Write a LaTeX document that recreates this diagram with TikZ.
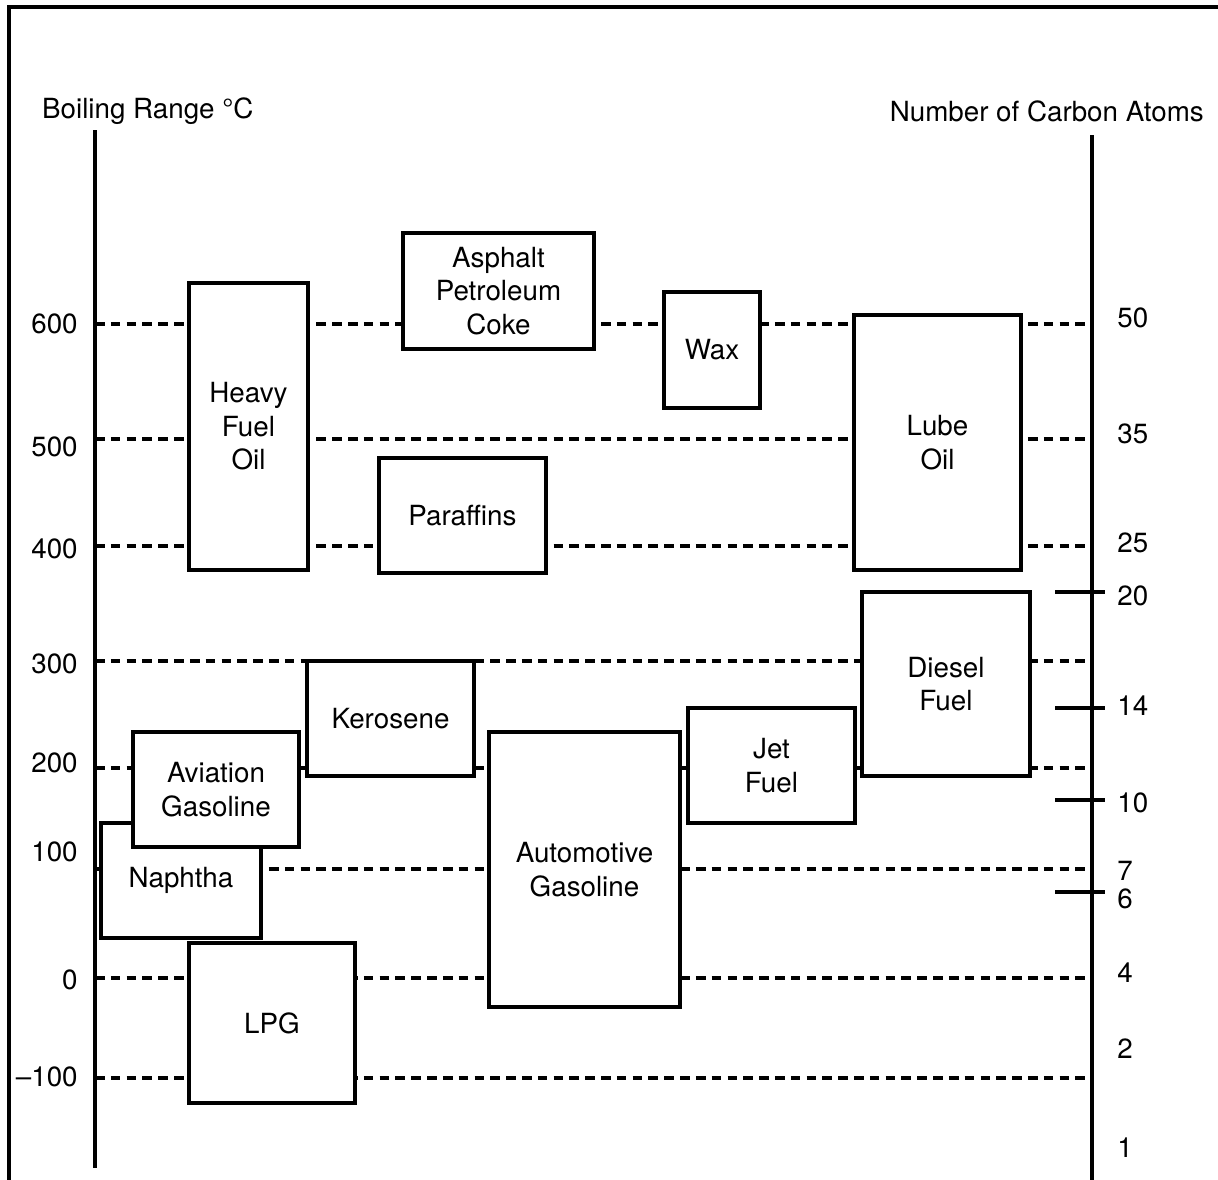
\documentclass[tikz,border=0pt]{standalone}
\usepackage{fontspec}
\setmainfont{TeX Gyre Heros}
\begin{document}
\begin{tikzpicture}[x=0.02cm, y=-0.02cm, font=\fontsize{15.8}{19}\selectfont, line join=miter,
	fuel/.style={draw, fill=white, line width=1.9pt, inner sep=0pt, align=center},
	guide/.style={dash pattern=on 5.5pt off 3.5pt, line width=1.8pt},
	axis/.style={line width=1.9pt},
	tick/.style={inner sep=0pt}]
	\useasboundingbox (0,0) rectangle (1218,1180);
	\draw[line width=2.2pt] (9,1180) -- (9,7) -- (1218,7);
	\coordinate (ltop) at (95,130); \coordinate (lbot) at (95,1168);
	\coordinate (rtop) at (1092,135); \coordinate (rbot) at (1092,1180);
	\node[anchor=west] (btitle) at (36,111) {Boiling Range °C};
	\node[anchor=east] (ctitle) at (1210,111) {Number of Carbon Atoms};
	% grid of boiling points
	\foreach \y in {324,439,546,661,768,869,978,1078}{
		\draw[guide] (95,\y) -- (1092,\y);
	}
	\draw[axis] (ltop) -- (lbot);
	\draw[axis] (rtop) -- (rbot);
	\foreach \y in {592,708,800,892}{
		\draw[axis] (1055,\y) -- (1105,\y);
	}
	\foreach \t/\y [count=\i] in {600/324,500/447,400/549,300/664,200/763,100/852,0/980,{–100}/1077}{
		\node[tick, anchor=east] (bp\i) at (78,\y) {\t};
	}
	\foreach \n/\y in {50/318,35/434,25/543,20/596,14/706,10/803,7/871,6/899,4/973,2/1049,1/1148}{
		\node[tick, anchor=west] (cn\n) at (1117,\y) {\n};
	}
	% fractions
	\node[fuel, minimum width=2.38cm, minimum height=5.74cm] (heavy) at (248.5,426.5) {Heavy\\Fuel\\Oil};
	\node[fuel, minimum width=3.82cm, minimum height=2.32cm] (asphalt) at (498.5,291) {Asphalt\\Petroleum\\Coke};
	\node[fuel, minimum width=1.92cm, minimum height=2.32cm] (wax) at (712,350) {Wax};
	\node[fuel, minimum width=3.34cm, minimum height=5.10cm] (lube) at (937.5,442.5) {Lube\\Oil};
	\node[fuel, minimum width=3.34cm, minimum height=2.30cm] (paraffins) at (462.5,515.5) {Paraffins};
	\node[fuel, minimum width=3.36cm, minimum height=3.68cm] (diesel) at (946,684) {Diesel\\Fuel};
	\node[fuel, minimum width=3.34cm, minimum height=2.30cm] (kerosene) at (390.5,718.5) {Kerosene};
	\node[fuel, minimum width=3.20cm, minimum height=2.30cm] (naphtha) at (181,880.5) {Naphtha};
	\node[fuel, minimum width=3.32cm, minimum height=2.30cm] (avgas) at (216,789.5) {Aviation\\Gasoline};
	\node[fuel, minimum width=3.82cm, minimum height=5.50cm] (autogas) at (584.5,869.5) {Automotive\\Gasoline};
	\node[fuel, minimum width=3.34cm, minimum height=2.30cm] (jet) at (771.5,765.5) {Jet\\Fuel};
	\node[fuel, minimum width=3.32cm, minimum height=3.20cm] (lpg) at (272,1023) {LPG};
\end{tikzpicture}
\end{document}
